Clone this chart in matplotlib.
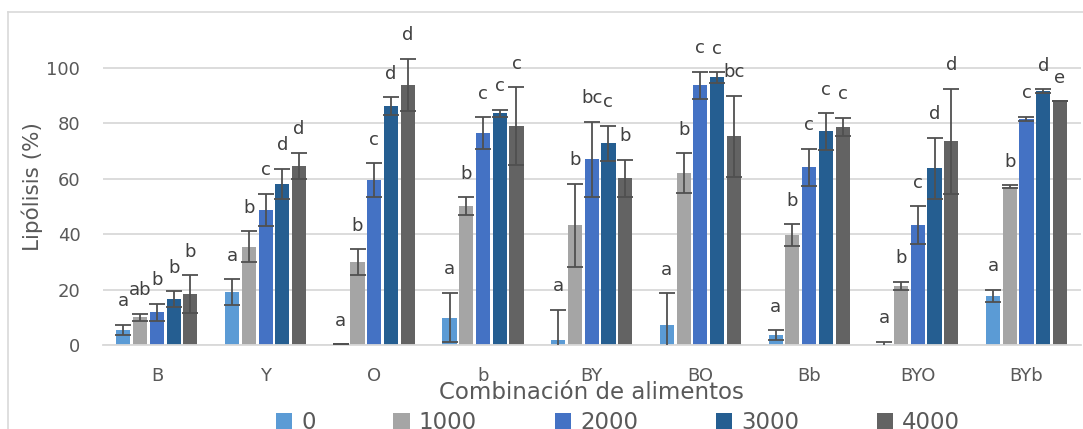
import matplotlib.pyplot as plt
import numpy as np
from matplotlib.lines import Line2D

# data
categories = ['B', 'Y', 'O', 'b', 'BY', 'BO', 'Bb', 'BYO', 'BYb']
doses = ['0', '1000', '2000', '3000', '4000']

v0 = [5.5, 19.0, 0.3, 9.9, 1.7, 7.2, 3.6, 0.2, 17.7]
v1000 = [10.0, 35.4, 30.0, 50.2, 43.2, 62.0, 39.6, 21.4, 57.1]
v2000 = [11.8, 48.7, 59.6, 76.4, 67.0, 93.7, 64.1, 43.2, 81.6]
v3000 = [16.6, 58.1, 86.3, 83.6, 72.8, 96.6, 77.1, 63.8, 91.6]
v4000 = [18.4, 64.6, 93.9, 79.1, 60.2, 75.3, 78.7, 73.6, 88.0]

e0 = [1.8, 4.7, 0.0, 8.9, 11.0, 11.4, 1.8, 1.0, 2.3]
e1000 = [1.3, 5.6, 4.6, 3.1, 15.0, 7.3, 4.0, 1.4, 0.5]
e2000 = [3.0, 5.8, 6.0, 5.8, 13.5, 4.9, 6.7, 6.9, 0.8]
e3000 = [2.8, 5.5, 3.1, 1.4, 6.3, 1.9, 6.6, 11.0, 0.8]
e4000 = [6.7, 4.8, 9.4, 14.0, 6.7, 14.7, 3.4, 19.0, 0.0]

l0 = ['a', 'a', 'a', 'a', 'a', 'a', 'a', 'a', 'a']
l1000 = ['ab', 'b', 'b', 'b', 'b', 'b', 'b', 'b', 'b']
l2000 = ['b', 'c', 'c', 'c', 'bc', 'c', 'c', 'c', 'c']
l3000 = ['b', 'd', 'd', 'c', 'c', 'c', 'c', 'd', 'd']
l4000 = ['b', 'd', 'd', 'c', 'b', 'bc', 'c', 'd', 'e']

values = [v0, v1000, v2000, v3000, v4000]
errors = [e0, e1000, e2000, e3000, e4000]
letters = [l0, l1000, l2000, l3000, l4000]
colors = ['#5B9BD5', '#A5A5A5', '#4472C4', '#255E91', '#636363']

plt.rcParams['font.family'] = 'DejaVu Sans'

fig = plt.figure(figsize=(10.83, 4.29), dpi=100)
ax = fig.add_axes([0.0947, 0.1958, 0.9033, 0.7748])

x = np.arange(len(categories))
pitch = 0.154
width = 0.13

for j in range(len(doses)):
    xs = x + (j - 2) * pitch
    ax.bar(xs, values[j], width, color=colors[j], label=doses[j], zorder=2)
    ax.errorbar(xs, values[j], yerr=errors[j], fmt='none', ecolor='#505050',
                elinewidth=1.3, capsize=6, capthick=1.3, zorder=3)
    for k in range(len(categories)):
        top = values[j][k] + errors[j][k]
        ax.text(xs[k], top + 8.5, letters[j][k], ha='center', va='center',
                fontsize=13, color='#404040', zorder=4)

ax.set_xlim(-0.5, len(categories) - 0.5)
ax.set_ylim(0, 120)
ax.set_yticks([0, 20, 40, 60, 80, 100])
ax.set_xticks(x)
ax.set_xticklabels(categories)
ax.tick_params(axis='both', length=0, labelsize=13, colors='#595959')
ax.tick_params(axis='x', pad=16)
ax.tick_params(axis='y', pad=16)
ax.grid(axis='y', color='#D9D9D9', linewidth=1.3, zorder=0)
ax.set_axisbelow(True)
for s in ['top', 'right', 'left']:
    ax.spines[s].set_visible(False)
ax.spines['bottom'].set_color('#D9D9D9')
ax.spines['bottom'].set_linewidth(1.3)

ax.set_ylabel('Lipólisis (%)', fontsize=15.5, color='#595959', va='center')
ax.yaxis.set_label_coords(-0.0722, 0.477)
ax.set_xlabel('Combinación de alimentos', fontsize=16.5, color='#595959', va='center')
ax.xaxis.set_label_coords(0.5, -0.1444)

fig.legend(loc='upper center', bbox_to_anchor=(618 / 1083, 1 - 400 / 429), ncol=5,
           frameon=False, fontsize=16.5, handlelength=0.7, handleheight=0.7,
           handletextpad=0.4, columnspacing=3.4, borderpad=0,
           labelcolor='#595959')

# chart area border
fig.add_artist(Line2D([8 / 1083, 8 / 1083], [0, 1 - 12 / 429], color='#D9D9D9', lw=1.2))
fig.add_artist(Line2D([8 / 1083, 1], [1 - 12 / 429, 1 - 12 / 429], color='#D9D9D9', lw=1.2))

fig.savefig('out.png', dpi=100)
